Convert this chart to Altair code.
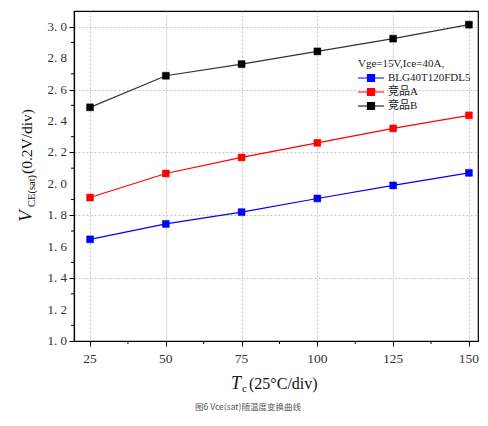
import altair as alt
import pandas as pd

# ---------------- data ----------------
TEMPS = [25, 50, 75, 100, 125, 150]
SERIES = ["BLG40T120FDL5", "竞品A", "竞品B"]
BLG = [1.647, 1.745, 1.820, 1.907, 1.990, 2.070]
COMP_A = [1.913, 2.066, 2.168, 2.261, 2.353, 2.436]
COMP_B = [2.487, 2.688, 2.762, 2.843, 2.924, 3.013]
COLORS = ["#0000ff", "#ff0000", "#000000"]
LINE_COLORS = ["#0000ff", "#ff0000", "#333333"]

X_MAJOR = [25, 50, 75, 100, 125, 150]
X_LABELS = ["25", "50", "75", "100", "125", "150"]
X_MINOR = [37.5, 62.5, 87.5, 112.5, 137.5]
Y_MAJOR = [1.0, 1.2, 1.4, 1.6, 1.8, 2.0, 2.2, 2.4, 2.6, 2.8, 3.0]
Y_LABELS = ["1. 0", "1. 2", "1. 4", "1. 6", "1. 8", "2. 0",
            "2. 2", "2. 4", "2. 6", "2. 8", "3. 0"]
Y_MINOR = [1.1, 1.3, 1.5, 1.7, 1.9, 2.1, 2.3, 2.5, 2.7, 2.9]

LEGEND_TITLE = "Vge=15V,Ice=40A,"
Y_TITLE_PARTS = ["V", "CE(sat)", "(0.2V/div)"]
X_TITLE_PARTS = ["T", "c", "(25°C/div)"]
CAPTION = "图6 Vce(sat)随温度变换曲线"

rows = []
for name, vals in zip(SERIES, [BLG, COMP_A, COMP_B]):
    for t, v in zip(TEMPS, vals):
        rows.append({"series": name, "T": t, "V": v})
df = pd.DataFrame(rows)

SERIF = "Liberation Serif"
SERIF_CJK = "Liberation Serif, Noto Sans CJK SC"

x_scale = alt.Scale(domain=[19.7, 153.0], nice=False, zero=False)
y_scale = alt.Scale(domain=[1.0, 3.1], nice=False, zero=False)

x_enc = alt.X(
    "T:Q", scale=x_scale,
    axis=alt.Axis(
        values=X_MAJOR, title=None, labels=False,
        tickColor="#000", tickWidth=1, tickSize=5,
        domainColor="#000", domainWidth=1.2,
        grid=True, gridColor="#b5b5b5", gridDash=[2, 2], gridWidth=0.8,
    ),
)
y_enc = alt.Y(
    "V:Q", scale=y_scale,
    axis=alt.Axis(
        values=Y_MAJOR, title=None, labels=False,
        tickColor="#000", tickWidth=1, tickSize=5,
        domainColor="#000", domainWidth=1.2,
        grid=True, gridColor="#b5b5b5", gridDash=[2, 2], gridWidth=0.8,
    ),
)

base = alt.Chart(df)

line_layers = [
    base.transform_filter(alt.datum.series == name)
    .mark_line(strokeWidth=1.2, color=col)
    .encode(x=x_enc, y=y_enc)
    for name, col in zip(SERIES, LINE_COLORS)
]

legend = alt.Legend(
    orient="none", legendX=284, legendY=47,
    title=LEGEND_TITLE, titleFont=SERIF, titleFontSize=11,
    titleFontWeight="normal", titleColor="#222", titlePadding=3,
    labelFont=SERIF_CJK, labelFontSize=11, labelColor="#222",
    symbolType="M-2.6,0H2.6M-0.7,-0.7H0.7V0.7H-0.7Z",
    symbolSize=100, symbolStrokeWidth=1.2, symbolOffset=7,
    labelOffset=11, rowPadding=2, padding=0,
)
color_scale = alt.Scale(domain=SERIES, range=COLORS)

points = base.mark_point(shape="square", filled=True, size=48, opacity=1,
                         strokeWidth=0.5).encode(
    x=x_enc, y=y_enc,
    fill=alt.Fill("series:N", scale=color_scale, legend=legend),
    stroke=alt.Stroke("series:N", scale=color_scale, legend=legend),
)

# minor ticks, placed through the shared scales
minor_y = alt.Chart(pd.DataFrame({"v": Y_MINOR})).mark_rule(
    color="#000", strokeWidth=1
).encode(y=alt.Y("v:Q", scale=y_scale), x=alt.value(-3), x2=alt.value(0))
minor_x = alt.Chart(pd.DataFrame({"t": X_MINOR})).mark_rule(
    color="#000", strokeWidth=1
).encode(x=alt.X("t:Q", scale=x_scale), y=alt.value(330), y2=alt.value(333))

# tick labels, placed through the shared scales
y_labels = alt.Chart(pd.DataFrame({"v": Y_MAJOR, "s": Y_LABELS})).mark_text(
    font=SERIF, fontSize=13, color="#333", align="right", baseline="middle"
).encode(y=alt.Y("v:Q", scale=y_scale), x=alt.value(-7), text="s:N")
x_labels = alt.Chart(pd.DataFrame({"t": X_MAJOR, "s": X_LABELS})).mark_text(
    font=SERIF, fontSize=13.5, color="#333", align="center", baseline="middle"
).encode(x=alt.X("t:Q", scale=x_scale), y=alt.value(348), text="s:N")


def label(text, px, py, size, italic=False, angle=0, font=SERIF, color="#111", align="left"):
    kw = dict(fontSize=size, font=font, color=color, align=align, baseline="alphabetic")
    if italic:
        kw["fontStyle"] = "italic"
    if angle:
        kw["angle"] = angle
    return alt.Chart(pd.DataFrame({"t": [text]})).mark_text(**kw).encode(
        text="t:N", x=alt.value(px), y=alt.value(py)
    )


texts = [
    label(Y_TITLE_PARTS[0], -42, 211, 19, italic=True, angle=270),
    label(Y_TITLE_PARTS[1], -39, 196, 10.5, angle=270),
    label(Y_TITLE_PARTS[2], -42, 163, 15.5, angle=270),
    label(X_TITLE_PARTS[0], 157, 378, 18, italic=True),
    label(X_TITLE_PARTS[1], 168, 381, 11),
    label(X_TITLE_PARTS[2], 175, 378, 16),
    label(CAPTION, 174, 399, 8.5, font="Noto Sans CJK SC", color="#555", align="center"),
]

chart = alt.layer(*line_layers, points, minor_y, minor_x, y_labels, x_labels, *texts).properties(
    width=404, height=330,
    autosize=alt.AutoSizeParams(type="none"),
    padding={"left": 66, "top": 3, "right": 2, "bottom": 72},
    background="white",
).configure_view(stroke="#000", strokeWidth=1.2)

chart.save("out.html", embed_options={"renderer": "svg", "actions": False})
